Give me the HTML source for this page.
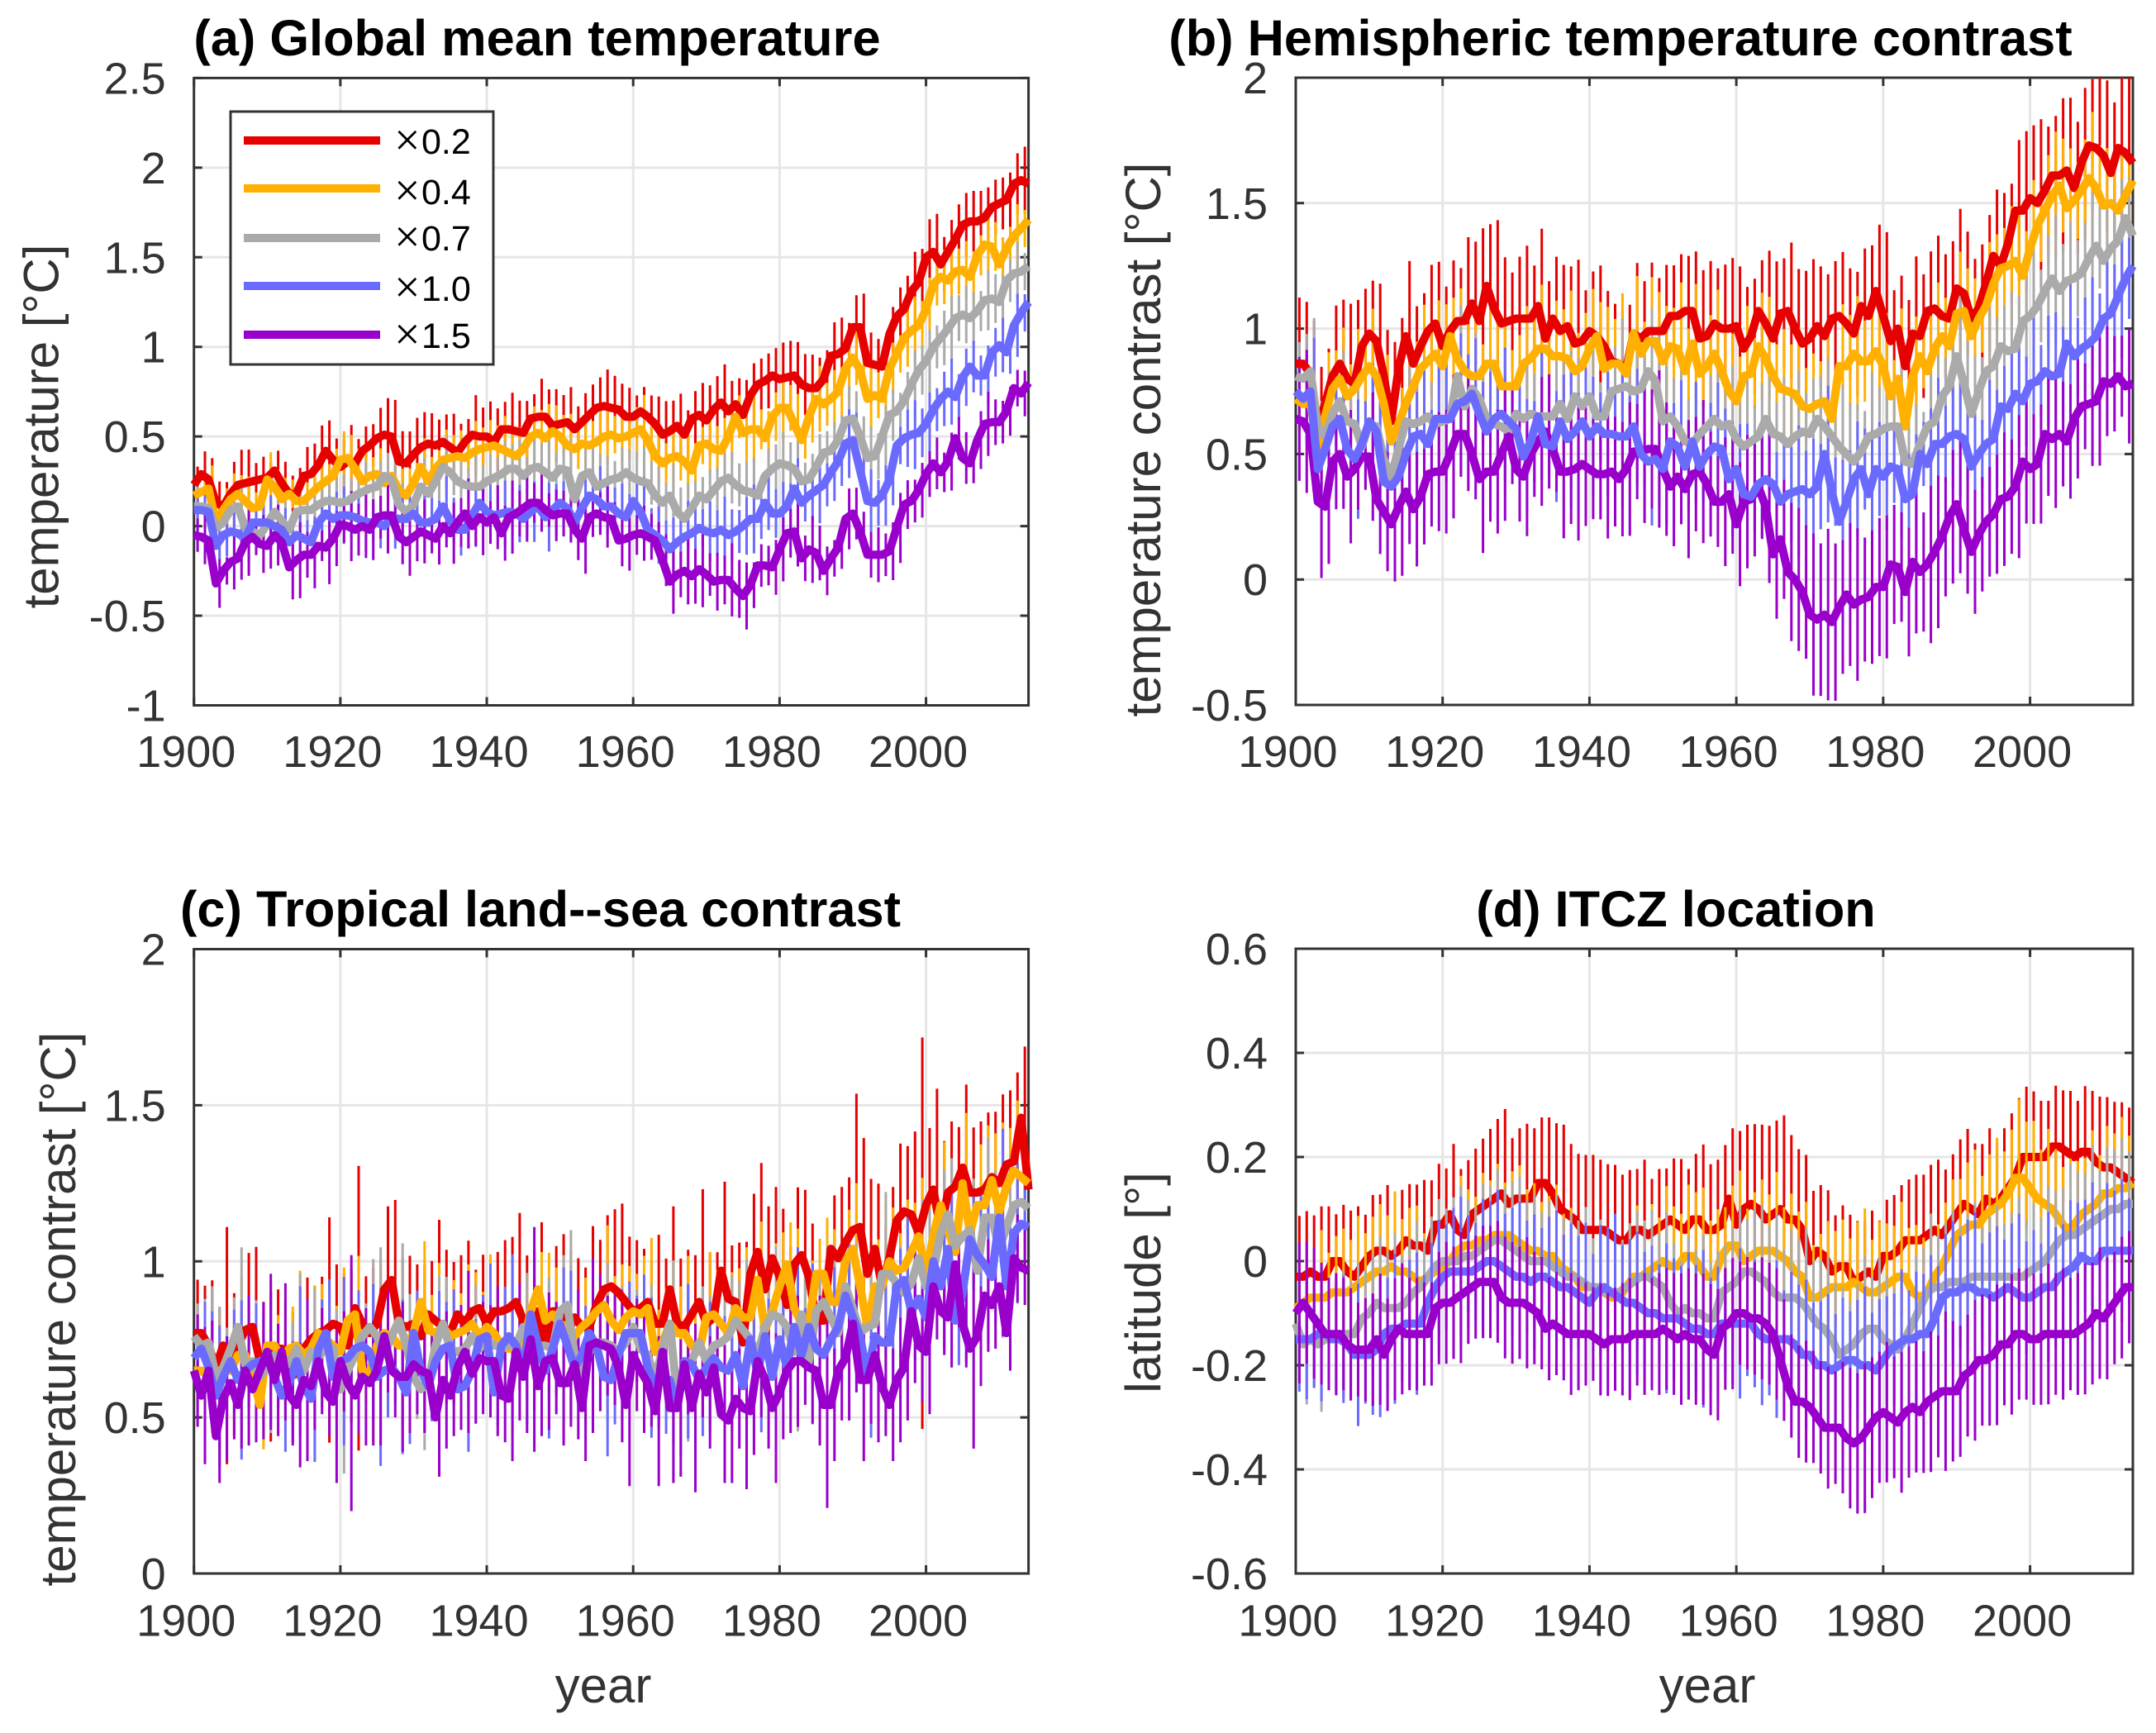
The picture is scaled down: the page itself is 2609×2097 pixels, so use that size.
<!DOCTYPE html>
<html lang="en">
<head>
<meta charset="utf-8">
<title>Global temperature and ITCZ responses to aerosol scaling</title>
<style>
html,body{margin:0;padding:0;background:#fff;}
svg{display:block;font-family:"Liberation Sans",Arial,sans-serif;}
.title{font-size:61.3px;font-weight:bold;fill:#000;text-anchor:middle;}
.axlabel{font-size:60px;fill:#333;text-anchor:middle;}
.legtxt{font-size:43px;fill:#000;}
.tick{font-size:54px;fill:#333;}
</style>
</head>
<body>
<svg id="figure" xmlns="http://www.w3.org/2000/svg" width="2609" height="2097" viewBox="0 0 2609 2097">
<rect width="2609" height="2097" fill="#fff"/>
<g id="plot-a"></g>
<g id="plot-b"></g>
<g id="plot-c"></g>
<g id="plot-d"></g>

<text class="title" x="650" y="67">(a) Global mean temperature</text>
<text class="title" x="1961" y="67">(b) Hemispheric temperature contrast</text>
<text class="title" x="654" y="1121">(c) Tropical land--sea contrast</text>
<text class="title" x="2028" y="1121">(d) ITCZ location</text>

<text class="axlabel" transform="translate(70.5 516) rotate(-90)">temperature [°C]</text>
<text class="axlabel" transform="translate(1404 532) rotate(-90)">temperature contrast [°C]</text>
<text class="axlabel" transform="translate(91 1584) rotate(-90)">temperature contrast [°C]</text>
<text class="axlabel" transform="translate(1404 1552) rotate(-90)">latitude [°]</text>
<text class="axlabel" x="730" y="2060">year</text>
<text class="axlabel" x="2066" y="2060">year</text>

<g>
<rect x="279" y="135" width="318" height="306" fill="#fff" stroke="#333" stroke-width="3"/>
<g><line x1="295" x2="460" y1="170" y2="170" stroke="#e60000" stroke-width="10"/><text class="legtxt" x="477" y="188"><tspan font-family="Liberation Serif" font-size="56">×</tspan><tspan x="510" y="186">0.2</tspan></text></g>
<g><line x1="295" x2="460" y1="228" y2="228" stroke="#ffb000" stroke-width="10"/><text class="legtxt" x="477" y="249"><tspan font-family="Liberation Serif" font-size="56">×</tspan><tspan x="510" y="247">0.4</tspan></text></g>
<g><line x1="295" x2="460" y1="288" y2="288" stroke="#aaaaaa" stroke-width="10"/><text class="legtxt" x="477" y="305"><tspan font-family="Liberation Serif" font-size="56">×</tspan><tspan x="510" y="303">0.7</tspan></text></g>
<g><line x1="295" x2="460" y1="346" y2="346" stroke="#6a6aff" stroke-width="10"/><text class="legtxt" x="477" y="366"><tspan font-family="Liberation Serif" font-size="56">×</tspan><tspan x="510" y="364">1.0</tspan></text></g>
<g><line x1="295" x2="460" y1="405" y2="405" stroke="#9900cc" stroke-width="10"/><text class="legtxt" x="477" y="423"><tspan font-family="Liberation Serif" font-size="56">×</tspan><tspan x="510" y="421">1.5</tspan></text></g>
</g>
</svg>

<script>
// Categories and tick labels
const firstYear = 1900;
const xTickValues = [1900, 1920, 1940, 1960, 1980, 2000];
const yTicksA = [-1, -0.5, 0, 0.5, 1, 1.5, 2, 2.5];
const yTicksB = [-0.5, 0, 0.5, 1, 1.5, 2];
const yTicksC = [0, 0.5, 1, 1.5, 2];
const yTicksD = [-0.6, -0.4, -0.2, 0, 0.2, 0.4, 0.6];

// Series values, one entry per year from 1900, in hundredths of the axis unit
const globalX02 = [23,29,26,13,11,18,23,24,25,26,27,31,24,18,18,28,29,34,42,37,33,36,35,42,45,49,51,50,36,35,40,44,46,45,47,44,41,47,51,50,50,47,54,54,53,52,60,61,61,56,57,58,54,58,62,66,67,66,65,61,61,64,61,57,51,53,56,51,60,62,59,65,69,64,68,62,73,79,81,84,82,83,84,79,77,77,82,95,96,99,111,111,91,90,89,107,117,121,131,136,150,153,146,153,160,168,170,170,172,178,180,182,191,193,191];
const globalX04 = [17,19,21,2,9,15,18,14,10,11,26,22,15,18,14,14,18,22,25,28,37,38,32,25,28,29,24,28,20,17,24,33,25,32,37,38,39,38,41,43,44,45,43,41,39,43,50,52,49,53,50,45,43,46,45,47,50,51,49,50,52,54,48,39,35,38,39,36,31,45,46,43,42,50,61,52,54,54,49,61,66,66,57,48,61,71,68,71,75,88,94,87,71,73,71,88,96,105,109,112,121,135,139,137,142,143,139,151,157,156,146,155,162,166,171];
const globalX07 = [11,11,10,-1,2,9,11,-1,-3,-5,1,8,3,-2,8,9,9,12,14,14,13,14,17,19,21,22,28,26,12,8,12,22,18,25,33,30,25,23,22,22,25,27,29,32,32,28,32,33,30,27,32,31,15,28,30,22,24,26,27,30,27,25,24,17,13,17,8,4,10,17,15,20,25,27,23,20,19,17,28,32,35,34,32,25,26,33,41,42,48,59,60,50,38,39,50,62,64,70,79,87,92,100,105,110,116,118,116,120,126,127,125,137,141,142,145];
const globalX10 = [9,9,8,-11,-5,-3,-4,-7,2,2,2,0,-2,-9,-5,-7,-9,2,7,4,6,6,5,3,2,2,0,5,4,4,7,2,2,4,11,3,-2,-2,6,13,8,6,7,8,7,4,8,11,5,9,13,10,2,10,17,15,11,11,7,5,14,8,-2,-5,-8,-13,-9,-6,-4,-1,-3,-4,-2,-5,-3,0,4,4,13,7,7,11,21,13,17,20,23,30,36,46,48,31,14,13,17,26,45,49,51,52,57,65,71,75,72,83,89,84,84,97,101,97,112,119,125];
const globalX15 = [-5,-6,-8,-32,-25,-20,-18,-9,-6,-10,-11,-5,-9,-23,-19,-16,-16,-11,-12,-7,1,0,-2,0,-2,5,6,6,-6,-9,-6,-3,-5,-7,0,-4,2,7,0,5,2,5,-4,5,7,10,13,13,9,6,7,7,-2,-7,5,7,5,4,-8,-7,-5,-4,-6,-8,-19,-31,-27,-25,-28,-24,-27,-31,-30,-30,-35,-39,-33,-22,-22,-23,-13,-4,-3,-18,-13,-15,-25,-18,-12,4,7,-3,-16,-16,-16,-14,-1,12,14,20,29,35,30,36,49,38,35,48,57,58,58,64,77,74,80];

const hemiX02 = [86,86,82,61,70,81,86,80,78,93,98,95,81,63,84,97,86,93,99,102,93,99,103,103,110,103,117,108,102,103,104,104,104,109,96,104,99,101,94,95,99,97,93,87,86,84,98,96,99,99,99,105,105,107,107,96,97,102,100,100,101,92,97,107,102,96,106,107,100,94,96,101,97,104,105,102,98,109,105,115,105,95,100,85,98,97,107,108,105,104,116,114,104,108,118,129,125,134,147,147,152,150,155,161,161,163,156,166,173,172,169,162,172,170,166];
const hemiX04 = [72,70,70,53,65,76,80,73,76,81,85,81,70,55,62,70,77,84,87,90,85,97,88,83,81,81,86,86,77,77,77,86,88,92,92,89,89,88,83,85,92,97,84,86,86,82,98,90,95,95,87,93,92,83,94,82,85,90,83,75,71,81,82,93,88,81,76,75,74,69,68,70,71,64,85,85,90,87,87,91,85,73,80,61,81,89,83,92,97,93,106,107,97,104,109,118,124,125,127,121,132,141,147,153,157,148,151,155,160,156,149,150,147,153,159];
const hemiX07 = [81,80,83,61,57,66,71,63,62,53,62,61,48,41,52,63,62,63,65,62,63,64,81,69,76,72,64,62,61,59,66,64,66,65,65,65,70,64,73,69,73,65,65,75,76,77,75,76,83,79,63,65,61,55,54,58,61,64,61,62,56,53,55,57,64,58,57,54,57,59,58,64,61,57,53,50,47,51,57,58,60,61,61,47,46,54,61,63,73,77,89,78,66,75,83,85,93,91,92,103,105,109,115,120,115,119,120,122,128,133,127,132,135,144,137];
const hemiX10 = [75,72,75,44,52,61,64,52,48,54,63,59,39,37,41,50,57,58,54,64,64,64,70,71,74,66,59,64,66,63,60,49,55,65,54,53,63,56,59,63,57,61,58,58,57,57,61,50,47,48,44,55,53,45,55,45,50,53,52,40,44,34,33,38,40,38,31,34,35,36,34,37,50,35,23,31,40,44,34,44,41,45,44,32,34,50,46,54,54,57,58,56,45,50,54,56,69,68,74,71,78,79,83,81,82,94,89,92,94,97,104,106,113,120,125];
const hemiX15 = [64,63,58,31,29,47,50,41,44,49,49,32,27,22,29,35,28,33,42,43,43,50,58,58,50,40,43,43,50,57,44,41,50,55,59,52,43,43,44,46,44,42,42,43,40,44,51,51,52,52,44,37,41,36,42,43,38,31,31,34,22,31,32,37,29,10,16,3,0,-5,-14,-16,-14,-17,-11,-6,-10,-8,-7,-3,-3,6,5,-5,7,3,6,11,17,25,30,20,11,18,23,26,32,33,37,47,44,46,58,56,58,55,64,69,70,71,79,78,81,77,78];

const landSeaX02 = [77,77,73,66,73,67,73,78,79,68,66,72,72,63,64,72,75,77,78,80,79,73,85,80,77,80,91,94,80,79,80,76,83,81,79,77,83,80,84,85,80,84,84,85,87,81,77,84,74,84,84,77,82,79,79,86,91,92,90,87,84,85,87,80,80,91,80,79,83,87,80,82,97,88,87,74,96,103,91,101,95,86,99,102,95,81,81,104,101,106,110,111,96,104,92,101,113,116,115,109,118,123,110,122,124,130,122,122,123,127,125,131,132,146,123];
const landSeaX04 = [65,65,63,62,65,65,70,70,64,54,73,73,69,72,73,70,72,77,75,73,71,81,83,65,64,73,77,76,73,73,77,87,78,77,79,76,77,78,80,76,79,77,73,72,74,73,84,91,81,83,80,79,76,79,81,84,86,81,78,82,84,83,85,71,74,80,77,77,73,71,82,83,80,77,85,82,82,94,78,84,92,99,85,80,80,96,96,87,87,100,104,92,79,92,92,100,97,98,103,108,96,108,118,110,103,125,109,118,118,126,116,124,129,127,125];
const landSeaX07 = [76,73,74,63,66,72,79,67,68,63,66,70,69,67,72,65,71,69,73,72,59,65,70,76,79,76,70,76,81,73,63,59,61,73,80,72,71,72,76,72,75,73,73,73,73,79,76,73,73,72,84,86,70,63,71,74,74,73,71,74,79,72,70,62,72,80,57,67,68,74,68,73,74,76,81,78,75,70,79,83,82,79,71,83,68,84,87,82,77,92,85,77,79,80,96,96,93,90,93,101,92,97,109,115,105,108,110,97,114,114,104,111,118,119,117];
const landSeaX10 = [69,72,66,57,63,68,62,65,67,68,69,63,57,61,68,60,56,72,77,63,68,69,72,73,71,63,65,66,63,58,77,65,60,68,72,73,59,60,65,75,76,58,73,76,73,65,83,73,65,72,80,73,66,70,77,73,63,62,70,77,77,77,66,60,62,62,53,68,67,62,66,69,66,65,70,60,75,64,76,63,75,66,79,70,79,72,70,75,79,89,82,76,63,76,74,74,92,94,84,88,82,100,92,104,81,90,107,102,99,95,114,92,109,112,111];
const landSeaX15 = [65,57,65,44,56,61,54,65,59,65,71,62,71,57,54,62,60,68,58,55,68,61,57,63,61,65,76,65,63,63,67,65,64,50,62,57,66,71,64,69,68,68,57,56,71,63,75,60,68,69,61,61,67,53,73,74,73,72,66,54,70,65,61,52,71,53,53,67,53,64,58,66,51,49,56,53,52,68,62,53,58,65,68,68,66,65,54,54,65,69,80,62,62,70,60,54,62,66,84,73,71,92,84,82,99,80,72,76,89,86,92,77,101,98,97];

const itczX02 = [-3,-3,-2,-3,-3,0,0,-2,-3,-1,1,2,2,1,2,4,3,3,2,7,7,9,6,5,9,10,11,12,13,11,12,12,12,15,15,13,10,9,8,6,6,6,6,5,4,4,6,6,5,6,7,8,7,6,8,8,6,6,7,12,7,10,11,10,8,9,10,8,8,6,0,2,1,-2,-1,-1,-4,-3,-2,-3,1,1,2,4,4,4,5,6,5,7,9,11,10,9,12,11,12,14,16,20,20,20,20,22,22,21,20,21,21,19,18,18,17,16,15];
const itczX04 = [-9,-8,-7,-7,-7,-6,-6,-6,-5,-4,-3,-2,-2,-1,-2,-2,-3,-4,-3,-2,-1,0,2,3,3,4,4,5,5,5,4,3,2,2,1,1,-1,-2,-3,-5,-5,-5,-6,-7,-7,-5,-3,-3,-2,-1,0,-1,-1,1,1,-1,-3,-3,1,3,3,0,1,2,2,2,1,0,-2,-3,-7,-7,-6,-5,-5,-5,-4,-5,-6,-6,-5,-4,-3,-3,-6,-7,-6,-3,-1,2,5,6,7,7,9,10,11,13,16,16,14,12,11,10,8,6,7,9,10,11,13,13,14,14,15];
const itczX07 = [-12,-16,-15,-16,-15,-15,-14,-14,-14,-11,-10,-8,-9,-9,-9,-8,-6,-5,-3,-1,0,0,0,1,1,2,3,4,4,3,2,1,0,0,0,-1,-2,-3,-3,-4,-5,-5,-6,-6,-6,-5,-4,-3,-3,-4,-5,-8,-10,-9,-10,-10,-11,-11,-6,-5,-4,-2,-2,-3,-4,-6,-7,-7,-7,-8,-10,-12,-13,-15,-18,-17,-16,-14,-13,-13,-15,-16,-17,-15,-12,-9,-6,-5,-5,-4,-4,-4,-3,-3,-3,-3,-3,-3,-3,-3,-2,-1,0,2,4,5,5,6,7,8,9,10,10,11,11];
const itczX10 = [-15,-15,-15,-14,-14,-15,-15,-16,-18,-18,-18,-17,-14,-13,-13,-12,-12,-12,-8,-5,-3,-2,-2,-2,-2,-1,0,0,-1,-2,-3,-3,-4,-3,-3,-4,-5,-5,-6,-7,-8,-6,-5,-6,-7,-8,-8,-9,-10,-10,-11,-11,-11,-12,-13,-13,-14,-14,-12,-12,-12,-12,-12,-14,-15,-15,-15,-15,-16,-18,-18,-20,-20,-21,-20,-19,-19,-20,-20,-21,-19,-17,-16,-15,-15,-14,-14,-11,-7,-6,-6,-5,-5,-6,-6,-7,-6,-5,-6,-7,-7,-6,-5,-5,-3,-2,-1,1,0,0,2,2,2,2,2];
const itczX15 = [-10,-8,-10,-12,-14,-14,-14,-16,-17,-17,-17,-15,-18,-15,-13,-14,-14,-14,-14,-9,-8,-8,-7,-6,-5,-4,-4,-4,-7,-8,-8,-8,-9,-10,-13,-12,-13,-14,-14,-14,-14,-15,-16,-15,-15,-15,-14,-14,-14,-14,-13,-14,-15,-14,-15,-15,-17,-18,-13,-12,-10,-10,-11,-11,-12,-14,-19,-24,-27,-27,-28,-30,-32,-32,-32,-34,-35,-34,-32,-30,-29,-30,-31,-29,-28,-29,-27,-26,-25,-25,-25,-22,-21,-19,-19,-18,-16,-16,-14,-14,-15,-15,-14,-14,-14,-14,-14,-13,-12,-10,-11,-9,-7,-5,-5];

// Error half-widths, one entry per year from 1900, same units: top series, middle series, bottom series
const globalErrTop = [12,15,14,14,16,21,23,22,12,15,10,13,14,12,17,19,20,26,20,14,18,24,16,16,14,20,24,24,20,21,24,23,20,17,18,22,19,15,26,19,23,22,18,24,20,21,16,25,18,24,19,23,15,19,20,20,24,21,17,19,14,16,14,18,22,20,21,16,18,21,23,22,25,20,17,23,21,17,18,18,24,24,22,20,22,20,19,22,24,17,21,22,20,17,20,18,19,22,26,22,25,25,18,21,23,21,20,20,20,18,17,18,20,22,16];
const globalErrMid = [14,12,16,10,15,18,13,17,11,14,19,12,15,10,17,13,18,15,12,19,20,16,14,21,13,18,16,22,15,19,14,20,17,13,21,16,18,12,22,15,19,14,23,17,20,13,21,16,24,18,15,22,14,20,17,23,19,13,21,16,18,24,15,20,14,22,17,25,19,13,21,16,23,18,15,20,24,14,19,17,22,16,21,13,18,23,15,20,17,24,19,14,22,16,21,18,13,20,24,17,22,15,19,23,16,20,18,14,21,17,19,15,22,13,18];
const globalErrBot = [11,18,14,16,9,18,14,22,12,19,15,20,13,21,25,15,22,10,24,18,12,23,17,21,20,14,25,13,18,22,16,21,12,17,14,20,16,23,13,25,14,21,18,24,15,22,13,19,11,17,15,19,20,23,13,14,20,11,17,21,13,18,15,12,17,21,15,22,18,25,14,19,16,24,19,22,15,14,13,18,21,16,23,15,22,18,16,12,14,20,17,13,15,18,14,19,23,16,14,18,15,17,13,19,14,17,13,19,21,15,14,16,12,15,13];

const hemiErrTop = [30,28,24,27,25,32,29,34,38,26,24,26,21,36,23,34,26,24,30,28,27,32,24,38,28,42,28,40,30,22,28,33,24,35,26,28,30,27,38,23,27,32,25,26,24,29,32,26,31,24,30,23,28,25,27,31,34,25,29,32,27,28,26,23,33,35,25,31,27,33,36,27,28,26,29,25,28,26,32,30,38,23,24,30,35,28,27,33,28,35,36,28,27,29,31,30,33,27,32,36,33,38,29,27,35,33,30,34,30,36,34,32,33,35,28];
const hemiErrMid = [16,21,25,12,30,18,24,15,28,20,27,14,23,32,17,26,21,30,16,25,29,18,33,22,26,15,28,20,31,17,24,27,19,30,14,26,22,32,18,25,28,16,29,21,33,19,27,15,30,23,26,18,31,20,28,16,24,30,19,27,21,33,17,25,29,15,28,22,31,18,26,20,32,16,29,24,27,19,30,22,25,17,33,21,28,15,26,31,18,24,29,20,27,16,30,23,19,28,25,21,32,17,26,30,22,28,18,24,31,20,27,23,29,19,25];
const hemiErrBot = [26,30,22,32,24,20,23,28,17,14,27,23,25,24,29,22,24,20,22,25,26,27,18,24,19,31,21,26,28,20,22,25,18,27,24,18,28,22,30,26,21,19,27,23,24,28,20,30,25,33,28,25,20,29,24,30,22,19,27,25,26,28,24,22,32,27,25,29,30,28,34,32,36,33,28,30,32,26,28,29,30,25,23,27,30,25,33,32,25,28,29,27,26,24,23,25,28,24,30,26,23,25,26,29,22,24,25,18,26,27,23,20,17,24,21];

const landSeaErrTop = [18,16,22,20,40,24,12,26,27,20,25,20,16,22,12,24,18,19,38,20,18,26,48,16,22,20,28,27,22,24,20,24,18,34,26,24,20,28,14,18,22,20,24,24,30,22,26,30,20,22,26,28,20,20,34,22,25,26,30,22,24,20,14,30,22,28,22,26,20,38,24,22,30,18,20,34,27,30,28,24,23,20,26,22,18,16,28,18,24,22,46,30,32,22,20,24,26,22,28,66,26,34,30,24,20,28,22,24,26,22,30,25,30,24,18];
const landSeaErrMid = [14,20,24,30,17,22,34,16,26,19,28,13,24,18,32,15,27,21,23,17,36,19,25,14,29,38,20,16,33,22,18,26,15,30,20,24,17,28,22,19,31,14,25,35,18,23,27,16,29,20,24,32,17,21,26,15,34,19,28,22,16,25,30,18,23,27,20,33,15,24,28,19,22,26,17,30,21,25,16,29,23,18,34,20,27,15,24,31,19,22,28,17,26,20,35,23,16,29,21,25,33,18,27,24,19,30,22,26,34,20,38,25,30,22,24];
const landSeaErrBot = [18,22,16,15,20,18,14,24,17,22,25,18,22,16,20,26,14,17,14,26,16,41,12,22,20,24,18,15,24,18,16,20,14,19,22,13,20,26,16,18,18,24,15,20,22,18,36,16,22,18,20,14,24,17,28,22,16,18,24,26,18,20,14,24,13,24,22,16,27,14,18,13,22,20,16,26,14,18,22,24,15,20,21,14,18,24,33,18,16,20,22,26,14,28,16,18,20,17,23,18,20,17,14,16,20,14,32,16,18,14,16,12,14,12,10];

const itczErrTop = [13,14,12,15,15,10,12,13,15,11,13,12,14,12,13,12,13,14,15,13,12,15,13,16,14,15,16,17,18,14,15,16,15,14,14,15,18,15,14,16,16,15,14,15,14,15,13,15,12,13,12,13,14,13,14,16,14,15,17,15,20,18,17,18,20,20,20,18,15,16,15,14,14,12,13,11,13,12,13,12,12,13,14,13,14,14,15,15,14,15,16,16,14,15,15,13,15,16,17,15,14,12,12,13,12,13,12,14,13,14,15,14,15,15,16];
const itczErrMid = [14,16,13,18,12,15,17,14,19,13,16,18,15,20,14,17,19,13,16,18,14,17,20,15,13,18,16,19,14,17,20,15,18,13,16,19,14,17,15,20,13,18,16,21,14,17,19,15,18,13,20,16,14,19,17,21,15,18,13,16,20,14,17,19,15,21,13,18,16,20,14,17,19,15,18,13,16,21,14,19,17,15,20,13,18,16,21,14,17,19,15,18,20,13,16,19,14,17,21,15,18,13,20,16,14,19,17,15,21,13,18,16,19,14,17];
const itczErrBot = [15,13,14,13,12,13,12,12,10,11,12,14,12,13,14,12,12,11,11,12,13,12,14,11,11,12,12,13,13,13,12,14,12,12,11,11,11,13,12,11,10,12,11,11,12,13,11,13,12,13,13,13,14,14,14,14,14,14,13,14,11,12,12,13,13,14,13,11,12,13,12,12,13,12,14,15,15,16,15,14,15,13,15,14,14,13,15,13,17,15,14,13,15,14,14,15,13,15,14,14,14,14,15,13,14,12,13,14,13,14,13,12,13,12,11];

// Series styling and panel layout
const seriesColors = ['#e60000', '#ffb000', '#aaaaaa', '#6a6aff', '#9900cc'];
const seriesNames = ['x02', 'x04', 'x07', 'x10', 'x15'];
const panelList = [
  {id:'a', l:234.7, r:1244.6, t:94.4, b:853.5, ymin:-1, ymax:2.5, ticks:yTicksA, labelY:928, errGain:[0.85,0.8,0.85],
   means:[globalX02,globalX04,globalX07,globalX10,globalX15],
   errs:[globalErrTop,globalErrMid,globalErrMid,globalErrMid,globalErrBot], layers:'under', lineOrder:[0,1,2,3,4]},
  {id:'b', l:1568, r:2581, t:94, b:853, ymin:-0.5, ymax:2, ticks:yTicksB, labelY:928, errGain:[0.88,0.85,0.95],
   means:[hemiX02,hemiX04,hemiX07,hemiX10,hemiX15],
   errs:[hemiErrTop,hemiErrMid,hemiErrMid,hemiErrMid,hemiErrBot], layers:'under', lineOrder:[0,1,2,4,3]},
  {id:'c', l:234.7, r:1244.6, t:1148.5, b:1904, ymin:0, ymax:2, ticks:yTicksC, labelY:1979.5, errGain:[0.95,0.75,1],
   means:[landSeaX02,landSeaX04,landSeaX07,landSeaX10,landSeaX15],
   errs:[landSeaErrTop,landSeaErrMid,landSeaErrMid,landSeaErrMid,landSeaErrBot], layers:'under', lineOrder:[0,1,2,3,4]},
  {id:'d', l:1568, r:2581, t:1148, b:1904, ymin:-0.6, ymax:0.6, ticks:yTicksD, labelY:1979.5, errGain:[0.9,0.72,0.9],
   means:[itczX02,itczX04,itczX07,itczX10,itczX15],
   errs:[itczErrTop,itczErrMid,itczErrMid,itczErrMid,itczErrBot], layers:'mixed', lineOrder:[0,1,2,3,4]}
];

const SVGNS = 'http://www.w3.org/2000/svg';
function make(tag, parent, attrs) {
  const el = document.createElementNS(SVGNS, tag);
  for (const k in attrs) el.setAttribute(k, attrs[k]);
  parent.appendChild(el);
  return el;
}

panelList.forEach(function (p) {
  const g = document.getElementById('plot-' + p.id);
  const xScale = function (year) { return p.l + (year - firstYear) * (p.r - p.l) / 114; };
  const yScale = function (v) { return p.b - (v - p.ymin) * (p.b - p.t) / (p.ymax - p.ymin); };

  const clip = make('clipPath', g, {id: 'clip-' + p.id});
  make('rect', clip, {x: p.l, y: p.t, width: p.r - p.l, height: p.b - p.t});

  // grid
  xTickValues.forEach(function (yr) {
    if (yr === firstYear) return;
    const gl = make('line', g, {x1: xScale(yr), x2: xScale(yr), y1: p.t, y2: p.b, stroke: '#e6e6e6', 'stroke-width': 3});
    
    
  });
  p.ticks.forEach(function (v) {
    if (v === p.ymin || v === p.ymax) return;
    const gl = make('line', g, {x1: p.l, x2: p.r, y1: yScale(v), y2: yScale(v), stroke: '#e6e6e6', 'stroke-width': 3});
    
    
  });

  // frame
  const frame = make('rect', g, {x: p.l, y: p.t, width: p.r - p.l, height: p.b - p.t, fill: 'none', stroke: '#333', 'stroke-width': 3});
  
  

  // ticks and labels
  xTickValues.forEach(function (yr) {
    const x = xScale(yr);
    const t1 = make('path', g, {d: 'M' + x + ' ' + p.b + 'v-10M' + x + ' ' + p.t + 'v10', stroke: '#333', 'stroke-width': 3, fill: 'none'});
    
    
    const lb = make('text', g, {x: x - 9.5, y: p.labelY, 'class': 'tick', 'text-anchor': 'middle'});
    lb.textContent = String(yr);
    
    
  });
  p.ticks.forEach(function (v) {
    const y = yScale(v);
    const t2 = make('path', g, {d: 'M' + p.l + ' ' + y + 'h10M' + p.r + ' ' + y + 'h-10', stroke: '#333', 'stroke-width': 3, fill: 'none'});
    
    
    const lb = make('text', g, {x: p.l - 34, y: y + 19, 'class': 'tick', 'text-anchor': 'end'});
    lb.textContent = String(v);
    
    
  });

  function drawBars(s) {
    const gain = s === 0 ? p.errGain[0] : (s === 4 ? p.errGain[2] : p.errGain[1]);
    let d = '';
    p.means[s].forEach(function (m, i) {
      const e = p.errs[s][i] * gain;
      const x = xScale(firstYear + i + 0.5).toFixed(1);
      d += 'M' + x + ' ' + yScale((m + e) / 100).toFixed(1) + 'L' + x + ' ' + yScale((m - e) / 100).toFixed(1);
    });
    const bars = make('path', g, {d: d, stroke: seriesColors[s], 'stroke-width': 3, fill: 'none', 'clip-path': 'url(#clip-' + p.id + ')'});
    
    
  }
  function drawLine(s) {
    const pts = p.means[s].map(function (m, i) {
      return xScale(firstYear + i).toFixed(1) + ',' + yScale(m / 100).toFixed(1);
    }).join(' ');
    const line = make('polyline', g, {points: pts, stroke: seriesColors[s], 'stroke-width': 10, fill: 'none', 'stroke-linejoin': 'round'});
    
    
  }

  if (p.layers === 'mixed') {
    p.lineOrder.forEach(function (s) { drawBars(s); drawLine(s); });
  } else {
    [0, 1, 2, 3, 4].forEach(drawBars);
    p.lineOrder.forEach(drawLine);
  }
});
</script>
</body>
</html>
